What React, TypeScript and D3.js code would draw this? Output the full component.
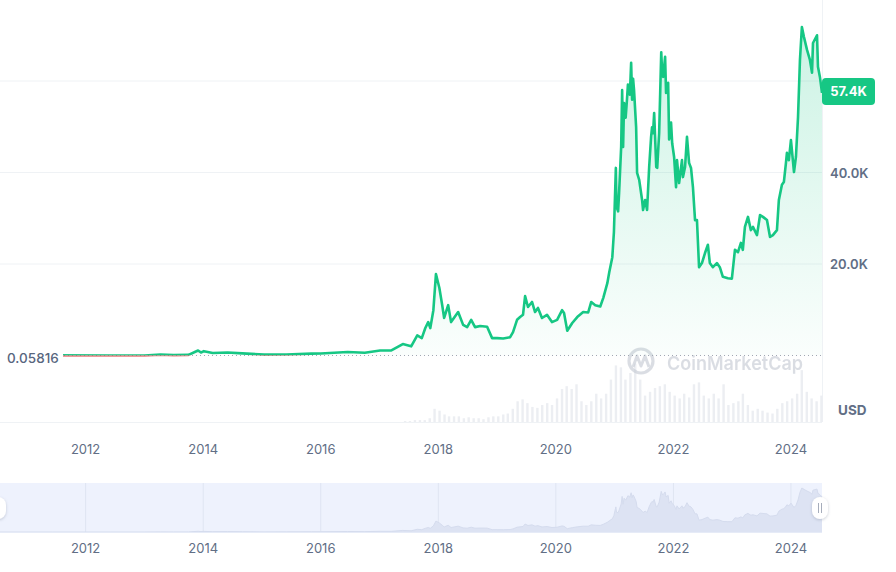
import React from 'react';
import * as d3 from 'd3';

// ---- Data ----
const priceSeries: [string, number][] = [
  ['2010-07-18', 0.05816], ['2011-06-08', 25], ['2012-06-01', 6], ['2013-01-01', 13],
  ['2013-04-10', 200], ['2013-07-01', 90], ['2013-10-01', 130], ['2013-11-30', 1100],
  ['2013-12-18', 650], ['2014-01-05', 950], ['2014-03-01', 560], ['2014-06-01', 650],
  ['2014-09-01', 470], ['2015-01-14', 200], ['2015-06-01', 230], ['2015-11-04', 400],
  ['2016-01-01', 430], ['2016-06-16', 750], ['2016-10-01', 610], ['2017-01-04', 1100],
  ['2017-03-15', 1100], ['2017-05-25', 2500], ['2017-07-16', 2000], ['2017-08-23', 4400],
  ['2017-09-20', 3800], ['2017-10-12', 6000], ['2017-10-30', 7300], ['2017-11-12', 6000],
  ['2017-12-01', 9900], ['2017-12-17', 17800], ['2018-01-07', 14800], ['2018-01-25', 11000],
  ['2018-02-06', 8200], ['2018-03-03', 11000], ['2018-03-21', 7300], ['2018-05-04', 9500],
  ['2018-06-04', 6700], ['2018-06-29', 6200], ['2018-07-24', 7800], ['2018-08-17', 6200],
  ['2018-09-18', 6450], ['2018-10-31', 6300], ['2018-12-01', 3800], ['2019-01-01', 3800],
  ['2019-02-08', 3700], ['2019-03-23', 4000], ['2019-04-10', 5100], ['2019-05-05', 7800],
  ['2019-05-24', 8400], ['2019-06-11', 8900], ['2019-06-24', 13000], ['2019-07-12', 10600],
  ['2019-08-06', 11700], ['2019-08-25', 9500], ['2019-09-12', 10400], ['2019-10-07', 8200],
  ['2019-11-07', 8900], ['2019-12-08', 7300], ['2020-01-09', 7800], ['2020-02-09', 9900],
  ['2020-02-21', 9300], ['2020-03-12', 5400], ['2020-04-12', 7100], ['2020-05-13', 8400],
  ['2020-06-19', 9500], ['2020-07-20', 9400], ['2020-08-08', 11700], ['2020-09-02', 11000],
  ['2020-10-03', 10700], ['2020-10-22', 12600], ['2020-11-16', 15800], ['2020-11-28', 18200],
  ['2020-12-17', 21500], ['2020-12-27', 27000], ['2021-01-08', 41000], ['2021-01-12', 32500],
  ['2021-01-22', 31500], ['2021-01-28', 35500], ['2021-02-10', 45600], ['2021-02-16', 58000],
  ['2021-02-22', 45600], ['2021-02-28', 55200], ['2021-03-10', 52000], ['2021-03-18', 55900],
  ['2021-03-24', 59200], ['2021-04-05', 57000], ['2021-04-13', 64000], ['2021-04-19', 55900],
  ['2021-04-25', 60500], ['2021-05-01', 58000], ['2021-05-14', 49900], ['2021-05-20', 39900],
  ['2021-06-02', 38400], ['2021-06-20', 34000], ['2021-06-26', 31800], ['2021-07-09', 34000],
  ['2021-07-21', 31800], ['2021-08-03', 41200], ['2021-08-15', 47800], ['2021-08-21', 49900],
  ['2021-08-27', 48600], ['2021-09-03', 53000], ['2021-09-16', 41200], ['2021-09-22', 41000],
  ['2021-10-04', 48600], ['2021-10-17', 66300], ['2021-10-23', 61500], ['2021-10-29', 60900],
  ['2021-11-10', 65300], ['2021-11-16', 57400], ['2021-11-29', 59600], ['2021-12-05', 47200],
  ['2021-12-17', 50900], ['2021-12-24', 46400], ['2022-01-05', 43400], ['2022-01-17', 36800],
  ['2022-01-23', 42700], ['2022-02-05', 37700], ['2022-02-23', 42700], ['2022-03-01', 39000],
  ['2022-03-14', 41200], ['2022-03-26', 47800], ['2022-04-08', 42100], ['2022-04-20', 41000],
  ['2022-05-02', 36800], ['2022-05-15', 29600], ['2022-05-27', 29600], ['2022-06-09', 19300],
  ['2022-06-27', 20200], ['2022-07-16', 22400], ['2022-08-03', 24200], ['2022-08-15', 20200],
  ['2022-09-03', 19300], ['2022-09-28', 20200], ['2022-10-16', 19300], ['2022-11-04', 17200],
  ['2022-12-05', 16900], ['2022-12-30', 16800], ['2023-01-18', 23100], ['2023-02-06', 22600],
  ['2023-02-24', 24600], ['2023-03-08', 23100], ['2023-03-21', 28100], ['2023-04-09', 30300],
  ['2023-04-27', 27400], ['2023-05-10', 28100], ['2023-06-04', 26300], ['2023-06-23', 30700],
  ['2023-07-11', 30300], ['2023-08-05', 29600], ['2023-08-24', 25900], ['2023-09-11', 26300],
  ['2023-10-06', 27400], ['2023-10-18', 34000], ['2023-11-06', 37300], ['2023-11-18', 37900],
  ['2023-12-01', 42100], ['2023-12-07', 44300], ['2023-12-19', 42700], ['2024-01-01', 47100],
  ['2024-01-20', 40100], ['2024-02-01', 43400], ['2024-02-14', 52100], ['2024-02-26', 64600],
  ['2024-03-09', 71800], ['2024-03-22', 69600], ['2024-04-10', 66800], ['2024-04-28', 64600],
  ['2024-05-11', 61800], ['2024-05-17', 68300], ['2024-06-11', 70000], ['2024-06-17', 63100],
  ['2024-06-29', 60900], ['2024-07-12', 57400],
];

// Monthly 24h volume estimates (billions USD), starting June 2017
const volumeStart = '2017-06-01';
const volumeValues = [
  1, 1, 2, 2, 2, 4, 14,
  12, 8, 6, 6, 6, 4, 5, 4, 4, 3, 5, 6,
  6, 8, 9, 14, 22, 24, 20, 16, 15, 18, 20, 18,
  25, 35, 38, 35, 40, 22, 18, 22, 30, 25, 30, 45,
  60, 58, 45, 52, 62, 45, 28, 32, 36, 38, 40, 32,
  28, 25, 30, 26, 40, 42, 28, 25, 30, 25, 40, 18,
  20, 22, 30, 18, 12, 14, 12, 10, 9, 14, 20, 22,
  25, 30, 55, 32, 25, 22, 28,
];

const yearTicks = [2012, 2014, 2016, 2018, 2020, 2022, 2024];
const priceTicks = [20000, 40000, 60000];
const labelledPriceTicks = [20000, 40000];
const firstPriceLabel = '0.05816';
const lastPriceLabel = '57.4K';
const currencyLabel = 'USD';
const watermark = 'CoinMarketCap';

const GREEN = '#16c784';
const RED = '#ea3943';
const TEXT = '#616e85';
const FONT = 'Inter, "Noto Sans", sans-serif';

export default function App() {
  const W = 896;
  const H = 572;
  const plotRight = 822;
  const volBottom = 422;
  const navTop = 483;
  const navBottom = 532;

  const parse = d3.timeParse('%Y-%m-%d');
  const data = priceSeries.map(([d, v]) => ({ date: parse(d) as Date, value: v }));

  const x = d3
    .scaleTime()
    .domain([parse('2010-07-18') as Date, parse('2024-07-12') as Date])
    .range([0, plotRight]);
  const y = d3.scaleLinear().domain([0, 60000]).range([355.5, 81]);
  const yBase = y(data[0].value);

  const line = d3
    .line<{ date: Date; value: number }>()
    .x((d) => x(d.date))
    .y((d) => y(d.value))
    .curve(d3.curveLinear);
  const area = d3
    .area<{ date: Date; value: number }>()
    .x((d) => x(d.date))
    .y0(yBase)
    .y1((d) => y(d.value));

  const maxPrice = d3.max(data, (d) => d.value) as number;
  const yNav = d3.scaleLinear().domain([0, maxPrice]).range([navBottom, navTop + 5]);
  const navArea = d3
    .area<{ date: Date; value: number }>()
    .x((d) => x(d.date))
    .y0(navBottom)
    .y1((d) => yNav(d.value));
  const navLine = d3
    .line<{ date: Date; value: number }>()
    .x((d) => x(d.date))
    .y((d) => yNav(d.value));

  const volStart = parse(volumeStart) as Date;
  const volMonths = volumeValues.map((_, i) => d3.timeMonth.offset(volStart, i));
  const vScale = d3.scaleLinear().domain([0, 70]).range([0, 66]);

  const yearX = (yr: number) => x(new Date(yr, 0, 1));
  const fmtK = (v: number) => (v / 1000).toFixed(1) + 'K';

  return (
    <svg
      width={W}
      height={H}
      style={{ position: 'absolute', left: 0, top: 0, background: '#fff' }}
      fontFamily={FONT}
    >
      <defs>
        <linearGradient id="fillGrad" gradientUnits="userSpaceOnUse" x1="0" y1="25" x2="0" y2={yBase}>
          <stop offset="0" stopColor={GREEN} stopOpacity={0.22} />
          <stop offset="1" stopColor={GREEN} stopOpacity={0.02} />
        </linearGradient>
        <clipPath id="above">
          <rect x={0} y={0} width={plotRight} height={yBase} />
        </clipPath>
        <clipPath id="below">
          <rect x={0} y={yBase} width={plotRight} height={20} />
        </clipPath>
        <filter id="shadow" x="-50%" y="-50%" width="200%" height="200%">
          <feDropShadow dx="0" dy="1" stdDeviation="1.5" floodColor="#8a94a6" floodOpacity="0.45" />
        </filter>
      </defs>

      {/* grid lines */}
      {priceTicks.map((t) => (
        <line key={t} x1={0} x2={plotRight} y1={y(t)} y2={y(t)} stroke="#eff2f5" strokeWidth={1} />
      ))}
      <line x1={plotRight + 0.5} x2={plotRight + 0.5} y1={0} y2={volBottom} stroke="#eff2f5" />
      <line x1={0} x2={plotRight} y1={volBottom + 0.5} y2={volBottom + 0.5} stroke="#eff2f5" />

      {/* volume bars */}
      {volumeValues.map((v, i) => {
        const bx = x(volMonths[i]);
        const h = vScale(v);
        return <rect key={i} x={bx} y={volBottom - h} width={2.4} height={h} fill="#eceef2" />;
      })}

      {/* watermark */}
      <g opacity={0.6}>
        <circle cx={641} cy={361} r={12} fill="none" stroke="#c3c8d2" strokeWidth={3.2} />
        <path
          d="M633,367 L637,356 L641,366 L645,356 L649,367"
          fill="none"
          stroke="#c3c8d2"
          strokeWidth={3}
          strokeLinejoin="round"
        />
        <text x={667} y={370} fontSize={19} fontWeight={600} fill="#c3c8d2" textLength={136} lengthAdjust="spacingAndGlyphs">
          {watermark}
        </text>
      </g>

      {/* price area + line */}
      <path d={area(data) as string} fill="url(#fillGrad)" />
      <line x1={0} x2={plotRight} y1={yBase} y2={yBase} stroke="#a1a7b3" strokeWidth={1} strokeDasharray="1 3" />
      <path
        d={line(data) as string}
        fill="none"
        stroke={GREEN}
        strokeWidth={2.6}
        strokeLinejoin="round"
        clipPath="url(#above)"
      />
      <path
        d={line(data) as string}
        fill="none"
        stroke={RED}
        strokeWidth={2.6}
        strokeLinejoin="round"
        opacity={0.7}
        clipPath="url(#below)"
      />

      {/* first price label */}
      <rect x={0} y={346} width={63} height={20} fill="#fff" />
      <text x={7} y={363} fontSize={13.5} fontWeight={500} fill="#58667e">
        {firstPriceLabel}
      </text>

      {/* right axis labels */}
      {labelledPriceTicks.map((t) => (
        <text key={t} x={830} y={y(t) + 5} fontSize={13} fontWeight={600} fill={TEXT}>
          {fmtK(t)}
        </text>
      ))}
      <rect x={822} y={78} width={53} height={27} rx={4} fill={GREEN} />
      <text x={848.5} y={96} fontSize={13} fontWeight={700} fill="#fff" textAnchor="middle">
        {lastPriceLabel}
      </text>
      <text x={838} y={415} fontSize={13.5} fontWeight={700} fill={TEXT}>
        {currencyLabel}
      </text>

      {/* x axis labels */}
      {yearTicks.map((yr) => (
        <text key={yr} x={yearX(yr)} y={454} fontSize={13} fill={TEXT} textAnchor="middle">
          {yr}
        </text>
      ))}

      {/* navigator */}
      <rect x={0} y={navTop} width={plotRight} height={navBottom - navTop} fill="#eef2fd" />
      {yearTicks.map((yr) => (
        <line key={yr} x1={yearX(yr)} x2={yearX(yr)} y1={navTop} y2={navBottom} stroke="#dfe5f2" />
      ))}
      <path d={navArea(data) as string} fill="#dde3f3" />
      <path d={navLine(data) as string} fill="none" stroke="#d5dcee" strokeWidth={1} />
      <line x1={0} x2={plotRight} y1={navBottom + 0.5} y2={navBottom + 0.5} stroke="#e6ebf7" />

      {/* handles */}
      <g filter="url(#shadow)">
        <rect x={-10} y={497} width={16} height={22} rx={8} fill="#fff" />
        <rect x={812} y={497} width={16} height={22} rx={8} fill="#fff" />
      </g>
      <line x1={818.5} x2={818.5} y1={503} y2={513} stroke="#a6adbb" strokeWidth={1} />
      <line x1={821.5} x2={821.5} y1={503} y2={513} stroke="#a6adbb" strokeWidth={1} />

      {yearTicks.map((yr) => (
        <text key={'n' + yr} x={yearX(yr)} y={553} fontSize={13} fill={TEXT} textAnchor="middle">
          {yr}
        </text>
      ))}
    </svg>
  );
}
